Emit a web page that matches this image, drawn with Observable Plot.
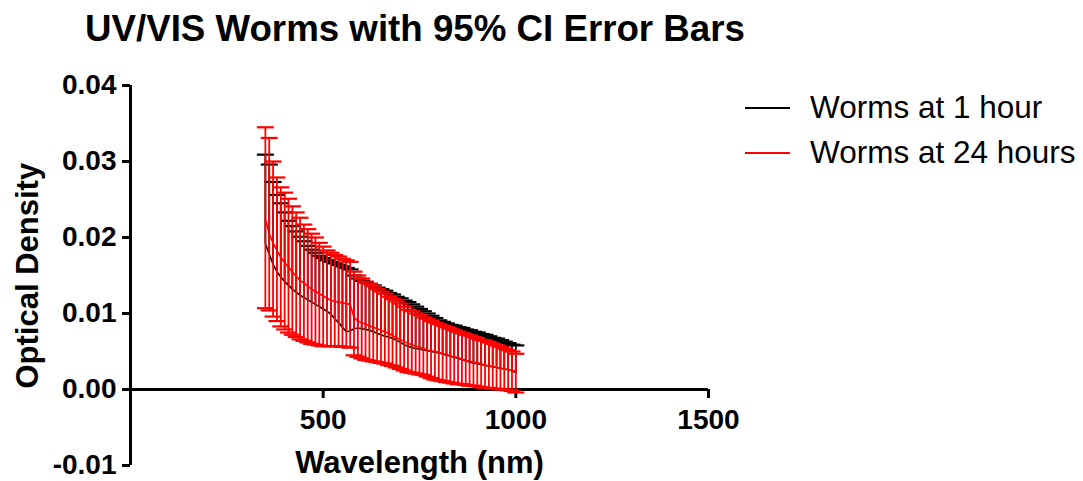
<!DOCTYPE html>
<html><head><meta charset="utf-8">
<script src="https://cdn.jsdelivr.net/npm/d3@7"></script>
<script src="https://cdn.jsdelivr.net/npm/@observablehq/plot@0.6"></script>
<style>
html,body{margin:0;padding:0;background:#fff;}
#wrap{position:relative;width:1083px;height:481px;font-family:"Liberation Sans",Arial,sans-serif;color:#000;}
#chart{position:absolute;left:0;top:0;}
#title{position:absolute;left:85px;top:11px;font-size:36.7px;font-weight:bold;line-height:1;white-space:nowrap;}
#legend{position:absolute;left:745px;top:85.5px;font-size:31.5px;line-height:1;}
.row{display:flex;align-items:center;height:45px;white-space:nowrap;}
.sw{display:inline-block;width:45px;height:0;border-top:2px solid;margin-right:20px;}
</style></head>
<body>
<div id="wrap"><div id="chart"></div><div id="title"></div><div id="legend"></div></div>
<script>
const titleText = "UV/VIS Worms with 95% CI Error Bars";
const xLabel = "Wavelength (nm)";
const yLabel = "Optical Density";
const seriesNames = ["Worms at 1 hour", "Worms at 24 hours"];
const seriesColors = ["#000000", "#ff0000"];
const xTicks = [500, 1000, 1500];
const yTicks = [-0.01, 0, 0.01, 0.02, 0.03, 0.04];

const wavelengths = [350,360,370,380,390,400,410,420,430,440,450,460,470,480,490,500,510,520,530,540,550,560,570,580,590,600,610,620,630,640,650,660,670,680,690,700,710,720,730,740,750,760,770,780,790,800,810,820,830,840,850,860,870,880,890,900,910,920,930,940,950,960,970,980,990,1000];

// Worms at 1 hour
const mean1h = [0.0192,0.0178,0.0165,0.0155,0.0148,0.0142,0.0137,0.0132,0.0128,0.0124,0.0121,0.0118,0.0115,0.0112,0.0109,0.0106,0.0103,0.0099,0.0093,0.0088,0.0082,0.0076,0.0077,0.0080,0.0081,0.0080,0.0079,0.0078,0.0076,0.0074,0.0072,0.0070,0.0069,0.0067,0.0065,0.0062,0.0059,0.0057,0.0055,0.0054,0.0053,0.0052,0.0051,0.0050,0.0049,0.0048,0.0047,0.0045,0.0044,0.0042,0.0041,0.0039,0.0038,0.0036,0.0035,0.0034,0.0033,0.0032,0.0031,0.0030,0.0029,0.0028,0.0027,0.0026,0.0025,0.0022];
const upper1h = [0.0309,0.0296,0.0273,0.0256,0.0245,0.0233,0.0222,0.0215,0.0208,0.0201,0.0195,0.0189,0.0184,0.0180,0.0176,0.0173,0.0170,0.0168,0.0166,0.0164,0.0162,0.0160,0.0158,0.0150,0.0146,0.0143,0.0141,0.0139,0.0137,0.0134,0.0132,0.0130,0.0127,0.0125,0.0122,0.0120,0.0117,0.0115,0.0112,0.0109,0.0106,0.0103,0.0100,0.0097,0.0094,0.0091,0.0089,0.0087,0.0085,0.0084,0.0082,0.0081,0.0079,0.0078,0.0076,0.0075,0.0073,0.0072,0.0070,0.0068,0.0067,0.0065,0.0063,0.0061,0.0059,0.0058];

// Worms at 24 hours
const mean24h = [0.0224,0.0205,0.0193,0.0183,0.0174,0.0167,0.0161,0.0155,0.0149,0.0144,0.0140,0.0136,0.0132,0.0129,0.0126,0.0123,0.0120,0.0117,0.0116,0.0115,0.0114,0.0113,0.0112,0.0095,0.0090,0.0088,0.0086,0.0084,0.0082,0.0080,0.0078,0.0076,0.0074,0.0071,0.0068,0.0066,0.0063,0.0061,0.0059,0.0057,0.0056,0.0054,0.0052,0.0051,0.0050,0.0049,0.0047,0.0046,0.0044,0.0043,0.0042,0.0040,0.0038,0.0037,0.0036,0.0035,0.0034,0.0032,0.0031,0.0030,0.0029,0.0028,0.0027,0.0026,0.0025,0.0024];
const upper24h = [0.0345,0.0331,0.0300,0.0279,0.0266,0.0259,0.0251,0.0241,0.0233,0.0226,0.0217,0.0211,0.0205,0.0200,0.0193,0.0188,0.0183,0.0180,0.0177,0.0175,0.0172,0.0170,0.0168,0.0155,0.0150,0.0146,0.0142,0.0139,0.0136,0.0132,0.0129,0.0126,0.0122,0.0119,0.0116,0.0113,0.0109,0.0105,0.0103,0.0100,0.0098,0.0095,0.0093,0.0090,0.0088,0.0086,0.0084,0.0082,0.0080,0.0078,0.0076,0.0074,0.0072,0.0071,0.0069,0.0067,0.0065,0.0064,0.0062,0.0060,0.0058,0.0056,0.0054,0.0052,0.0050,0.0047];
const lower24h = [0.0107,0.0104,0.0096,0.0090,0.0083,0.0079,0.0075,0.0072,0.0069,0.0066,0.0064,0.0062,0.0060,0.0059,0.0058,0.0057,0.0057,0.0057,0.0057,0.0057,0.0056,0.0056,0.0055,0.0045,0.0043,0.0041,0.0039,0.0038,0.0037,0.0036,0.0035,0.0034,0.0032,0.0031,0.0029,0.0027,0.0025,0.0023,0.0022,0.0021,0.0020,0.0019,0.0017,0.0015,0.0013,0.0012,0.0011,0.0010,0.0009,0.0008,0.0007,0.0007,0.0006,0.0005,0.0005,0.0004,0.0003,0.0002,0.0002,0.0001,0.0001,0.0000,0.0000,-0.0001,-0.0002,-0.0004];

const rows1 = wavelengths.map((wl, i) => ({wl, mean: mean1h[i], upper: upper1h[i]}));
const rows24 = wavelengths.map((wl, i) => ({wl, mean: mean24h[i], upper: upper24h[i], lower: lower24h[i]}));

const cap = {draw(ctx, size) { const r = Math.sqrt(size / Math.PI); ctx.moveTo(-r, 0); ctx.lineTo(r, 0); }};
const font = "Liberation Sans, Arial, sans-serif";

const chart = Plot.plot({
  width: 1083,
  height: 481,
  marginLeft: 130,
  marginRight: 375,
  marginTop: 85,
  marginBottom: 92,
  style: {fontFamily: font, background: "white", overflow: "visible"},
  x: {domain: [0, 1500], range: [130, 708]},
  y: {domain: [-0.01, 0.04], range: [465, 85]},
  marks: [
    Plot.axisY({ticks: yTicks, tickSize: 8, tickPadding: 6, tickFormat: d => d.toFixed(2), fontSize: 28, fontWeight: "bold", strokeWidth: 3, label: null, fill: "black", stroke: "black"}),
    Plot.axisX({ticks: xTicks, tickSize: 9, tickPadding: 11, tickFormat: d => String(d), fontSize: 28, fontWeight: "bold", strokeWidth: 3, label: null, fill: "black", stroke: "black"}),
    Plot.ruleX([0], {y1: -0.01, y2: 0.04, stroke: "black", strokeWidth: 3}),
    Plot.ruleY([0], {x1: 0, x2: 1500, stroke: "black", strokeWidth: 3}),
    // Worms at 1 hour (black), upper error bars
    Plot.ruleX(rows1, {x: "wl", y1: "mean", y2: "upper", stroke: seriesColors[0], strokeWidth: 1.8}),
    Plot.dot(rows1, {x: "wl", y: "upper", symbol: cap, r: 8.5, fill: "none", stroke: seriesColors[0], strokeWidth: 2.2}),
    Plot.line(rows1, {x: "wl", y: "mean", stroke: seriesColors[0], strokeWidth: 1.6}),
    // Worms at 24 hours (red)
    Plot.ruleX(rows24, {x: "wl", y1: "lower", y2: "upper", stroke: seriesColors[1], strokeWidth: 1.8}),
    Plot.dot(rows24, {x: "wl", y: "upper", symbol: cap, r: 8.5, fill: "none", stroke: seriesColors[1], strokeWidth: 2.2}),
    Plot.dot(rows24, {x: "wl", y: "lower", symbol: cap, r: 8.5, fill: "none", stroke: seriesColors[1], strokeWidth: 2.2}),
    Plot.line(rows24, {x: "wl", y: "mean", stroke: seriesColors[1], strokeWidth: 1.6}),
    // axis titles
    Plot.text([xLabel], {frameAnchor: "bottom", text: d => d, dy: 74, fontSize: 31, fontWeight: "bold", fill: "black", lineAnchor: "middle"}),
    Plot.text([yLabel], {frameAnchor: "left", text: d => d, dx: -102, dy: 151, rotate: -90, fontSize: 31, fontWeight: "bold", fill: "black", lineAnchor: "middle"})
  ]
});
document.getElementById("chart").appendChild(chart);
document.getElementById("title").textContent = titleText;
const legend = document.getElementById("legend");
seriesNames.forEach((name, i) => {
  const row = document.createElement("div");
  row.className = "row";
  const sw = document.createElement("span");
  sw.className = "sw";
  sw.style.borderColor = seriesColors[i];
  row.appendChild(sw);
  const t = document.createElement("span");
  t.textContent = name;
  row.appendChild(t);
  legend.appendChild(row);
});
</script>
</body></html>
